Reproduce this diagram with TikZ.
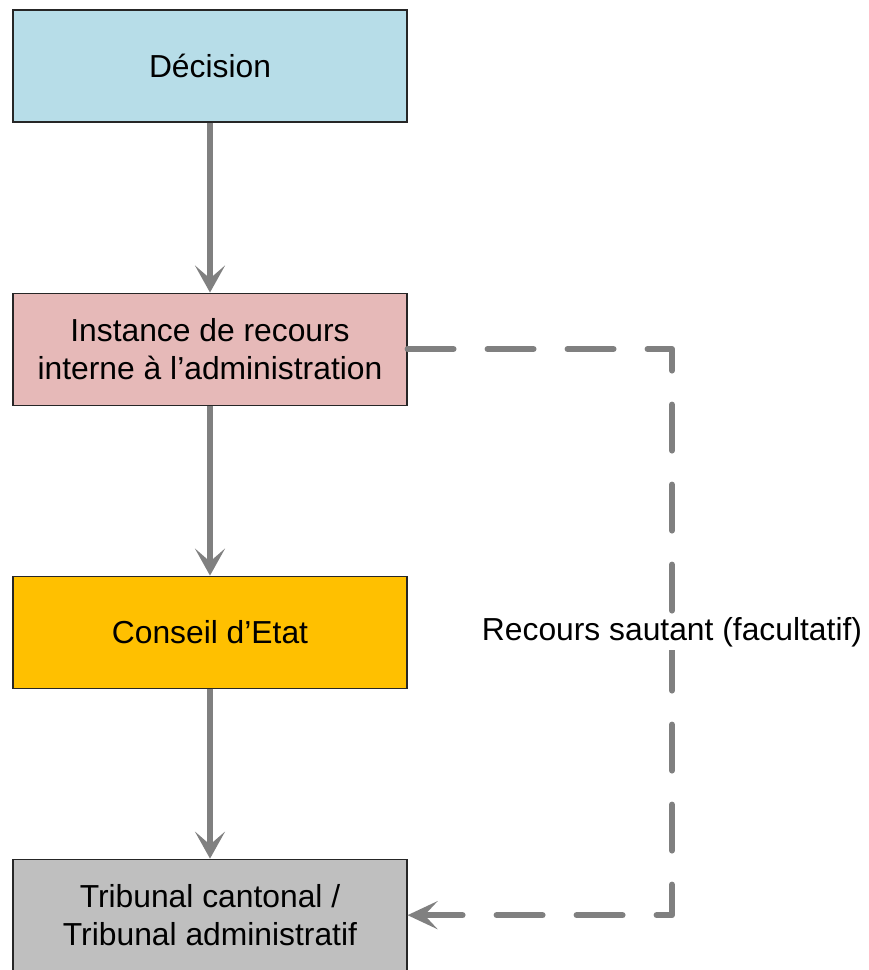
\documentclass[tikz,border=0pt]{standalone}
\usepackage{fontspec}
\setmainfont{Liberation Sans}
\usepackage{tikz}
\usetikzlibrary{positioning,arrows.meta,calc}

\begin{document}
\begin{tikzpicture}[every node/.style={font=\fontsize{18.1}{21.6}\selectfont}]

\definecolor{decide}{RGB}{183,221,232}
\definecolor{intern}{RGB}{230,185,184}
\definecolor{council}{RGB}{255,192,0}
\definecolor{court}{RGB}{191,191,191}
\definecolor{link}{RGB}{128,128,128}

\tikzset{
  stage/.style={draw=black!85,line width=0.6pt,minimum width=7.88cm,
    minimum height=2.24cm,inner sep=0pt,align=center},
  flow/.style={link,line width=2.9pt,
    -{Stealth[length=0.54cm,width=0.6cm,inset=0.26cm]}},
  skip/.style={link,line width=3.4pt,line cap=round,line join=round,
    dash pattern=on 0.92cm off 0.68cm,
    -{Stealth[length=0.6cm,width=0.56cm,inset=0.26cm]}}
}

\useasboundingbox (0,0) rectangle (17.38,-19.4);

% ===================== STAGES =====================
\node[stage,fill=decide] (decision) at (4.2,-1.32) {Décision};
\node[stage,fill=intern,below=3.4cm of decision] (instance)
  {Instance de recours\\interne à l’administration};
\node[stage,fill=council,below=3.4cm of instance] (conseil) {Conseil d’Etat};
\node[stage,fill=court,below=3.4cm of conseil] (tribunal)
  {Tribunal cantonal /\\Tribunal administratif};

% ===================== ORDINARY PATH =====================
\draw[flow] (decision) -- (instance);
\draw[flow] (instance) -- (conseil);
\draw[flow] (conseil) -- (tribunal);

% ===================== SKIP (optional) =====================
\coordinate (bend) at (13.44,0);
\draw[skip] (instance.east) -- (instance.east -| bend)
  -- (tribunal.east -| bend) -- (tribunal.east);
\node[fill=white,inner sep=2pt] (skiplabel) at (bend |- conseil)
  {Recours sautant (facultatif)};

\end{tikzpicture}
\end{document}
